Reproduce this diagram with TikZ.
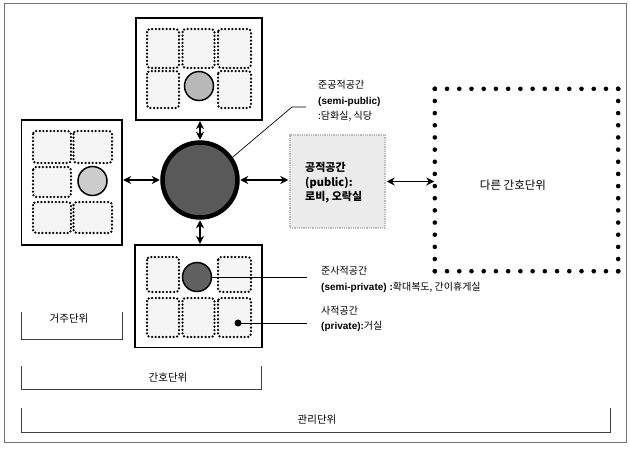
\documentclass[tikz,border=0pt]{standalone}
\usepackage{fontspec}
\setmainfont{Noto Sans CJK KR}
\newfontfamily\latf{Liberation Sans}
\newcommand{\lt}[1]{{\latf\bfseries #1}}
\usetikzlibrary{arrows.meta,calc}
\begin{document}
\begin{tikzpicture}[x=1pt,y=-1pt,
  unitbox/.style={draw=black, line width=1.3pt, fill=white, inner sep=0pt},
  cell/.style={draw=black, line width=2.5pt, dash pattern=on 0pt off 3.6pt, line cap=round, rounded corners=3pt, fill=gray!8},
  smallc/.style={circle, draw=black, line width=1.5pt, inner sep=0pt, minimum size=29pt},
  hubc/.style={circle, draw=black, line width=4.5pt, fill=black!65, inner sep=0pt, minimum size=75pt},
  biarrow/.style={line width=1.4pt, {Stealth[length=8pt,width=8pt]}-{Stealth[length=8pt,width=8pt]}, shorten <=0.5pt, shorten >=0.5pt},
  leader/.style={line width=0.7pt, draw=black},
  bracket/.style={line width=0.6pt, draw=black!75},
  lbl/.style={font=\fontsize{10}{15.5}\selectfont, align=left, inner sep=0pt, anchor=west},
  blbl/.style={font=\fontsize{11}{14.5}\selectfont\bfseries, align=left, inner sep=0pt, anchor=west},
  clbl/.style={font=\fontsize{10.5}{11}\selectfont, inner sep=0pt}
]
\useasboundingbox (0,0) rectangle (630,450);
% outer frame
\draw[line width=0.5pt, draw=black!55] (4,3) rectangle (626,442);

% unit boxes
\node[unitbox, minimum width=126pt, minimum height=102pt] (topbox) at (199,69) {};
\node[unitbox, minimum width=100.5pt, minimum height=125pt] (leftbox) at (71.75,182.5) {};
\node[unitbox, minimum width=127pt, minimum height=102.5pt] (botbox) at (198.5,296.25) {};

% cells of top box
\foreach \xa/\xb in {147/179, 218/251} {
  \draw[cell] (\xa,29) rectangle (\xb,68);
  \draw[cell] (\xa,71) rectangle (\xb,108);
}
\draw[cell] (182.5,29) rectangle (214.5,68);
\node[smallc, fill=gray!55] (topc) at (199,86) {};

% cells of left box
\foreach \ya/\yb in {131/163, 167/197, 202/233} {
  \draw[cell] (33,\ya) rectangle (71,\yb);
}
\draw[cell] (73.5,131) rectangle (112,163);
\draw[cell] (73.5,202) rectangle (112,233);
\node[smallc, fill=gray!40] (leftc) at (92.5,181) {};

% cells of bottom box
\foreach \xa/\xb in {147/179, 218/251} {
  \draw[cell] (\xa,257) rectangle (\xb,292);
  \draw[cell] (\xa,298) rectangle (\xb,337);
}
\draw[cell] (182.5,298) rectangle (214.5,337);
\node[smallc, fill=black!62] (botc) at (197,277) {};
\node[circle, fill=black, inner sep=0pt, minimum size=7pt] (pdot) at (238,323) {};

% hub
\node[hubc] (hub) at (200,180) {};

% public space
\node[draw=gray!55, fill=gray!16, line width=2.5pt, dash pattern=on 1pt off 0.8pt, minimum width=95pt, minimum height=93pt, inner sep=0pt] (public) at (337.5,181.5) {};
\node[blbl] (publictxt) at (305,183) {공적공간\\(public):\\로비, 오락실};

% other nursing unit (dotted)
\node[minimum width=183pt, minimum height=182pt, inner sep=0pt] (other) at (526.5,180) {};
\node[clbl, font=\fontsize{11.5}{12}\selectfont] (othertxt) at (513,185) {다른 간호단위};
\foreach \i in {0,...,15} {
  \fill ($(other.north west)!{\i/15}!(other.north east)$) circle (2.3pt);
  \fill ($(other.south west)!{\i/15}!(other.south east)$) circle (2.3pt);
  \fill ($(other.north west)!{\i/15}!(other.south west)$) circle (2.3pt);
  \fill ($(other.north east)!{\i/15}!(other.south east)$) circle (2.3pt);
}

% arrows
\draw[biarrow] (hub.north) -- (hub.north |- topbox.south);
\draw[biarrow] (hub.west) -- (hub.west -| leftbox.east);
\draw[biarrow] (hub.south) -- (hub.south |- botbox.north);
\draw[biarrow] (hub.east) -- (hub.east -| public.west);
\draw[biarrow] (public.east) -- (public.east -| other.west);

% semi-public label
\coordinate (sp1) at (292,107);
\coordinate (sp2) at (306,107);
\draw[leader] (hub.35) -- (sp1) -- (sp2);
\node[lbl] (semipub) at (318,101) {준공적공간\\\lt{(semi-public)}\\:담화실, 식당};

% semi-private label
\coordinate (spr) at (307,277);
\draw[leader] (botc.east) -- (spr);
\node[lbl] (semipriv) at (321,279.5) {준사적공간\\\lt{(semi-private) :}확대복도, 간이휴게실};

% private label
\coordinate (pr) at (307,323);
\draw[leader] (pdot.center) -- (pr);
\node[lbl] (priv) at (321,319) {사적공간\\\lt{(private):}거실};

% brackets
\draw[bracket] (21,312) -- (21,339) -- (122,339) -- (122,312);
\node[clbl] (resid) at (69,319) {거주단위};
\draw[bracket] (21,366) -- (21,389) -- (261,389) -- (261,366);
\node[clbl] (nurse) at (168,378) {간호단위};
\draw[bracket] (21,408) -- (21,432) -- (610,432) -- (610,408);
\node[clbl] (manage) at (317,420) {관리단위};
\end{tikzpicture}
\end{document}
